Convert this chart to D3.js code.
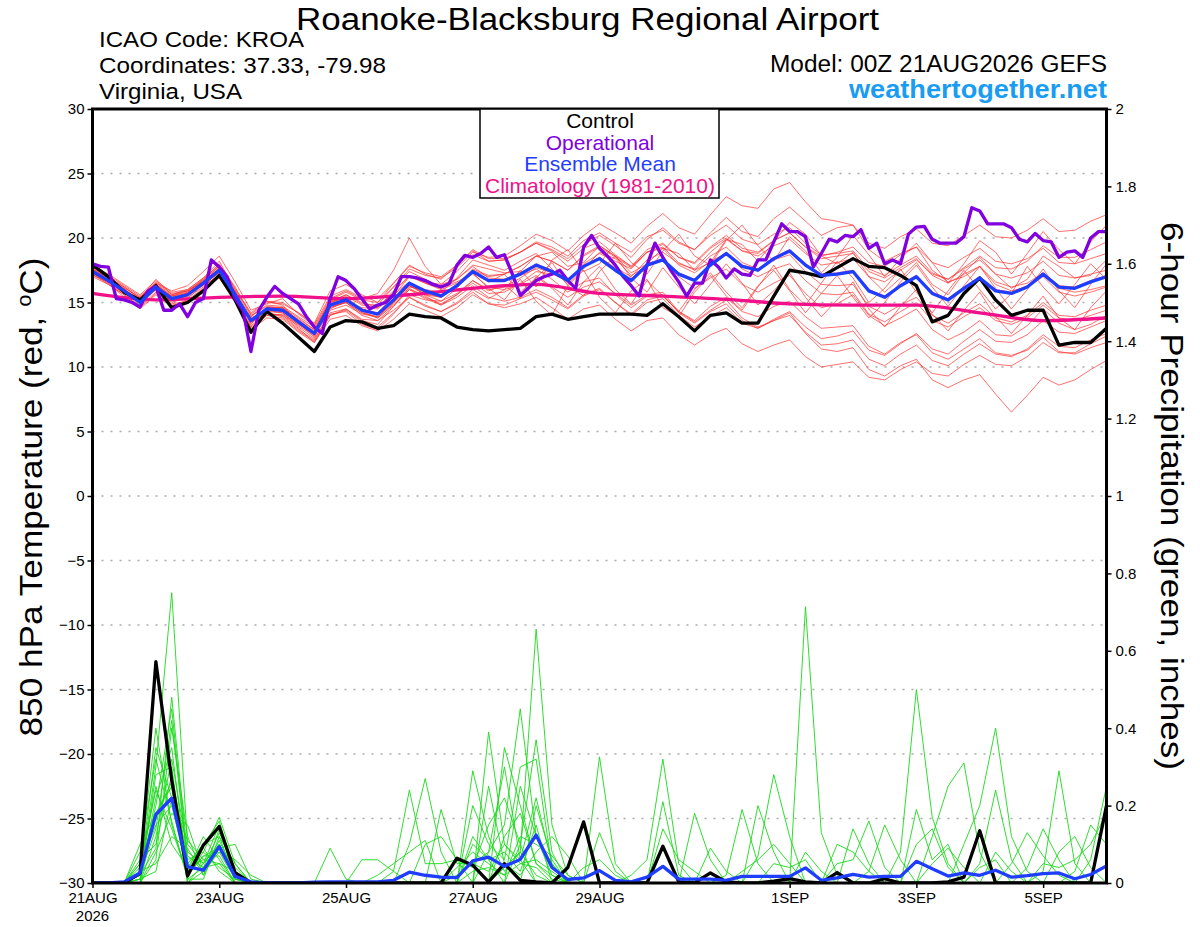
<!DOCTYPE html>
<html>
<head>
<meta charset="utf-8">
<script src="https://cdn.jsdelivr.net/npm/d3@7"></script>
<style>
  body { margin: 0; background: #fff; }
  svg { display: block; font-family: "Liberation Sans", Arial, Helvetica, sans-serif; }
</style>
</head>
<body>
<div id="chart"></div>
<script>

// forecast hours, GEFS 6-hourly out to 384h, operational 3-hourly
var hours6 = d3.range(0, 385, 6)
var hours3 = d3.range(0, 385, 3)

var tickHours = [0, 48, 96, 144, 192, 264, 312, 360]
var tickLabels = ["21AUG", "23AUG", "25AUG", "27AUG", "29AUG", "1SEP", "3SEP", "5SEP"]
var tempTicks = [-30, -25, -20, -15, -10, -5, 0, 5, 10, 15, 20, 25, 30]
var precipTicks = [0, 0.2, 0.4, 0.6, 0.8, 1, 1.2, 1.4, 1.6, 1.8, 2]
var gridTicks = [-25, -20, -15, -10, -5, 0, 5, 10, 15, 20, 25]

// 850 hPa temperature (C)
var controlTemp = [
  17.9, 17.0, 15.8, 15.2, 16.3, 14.6, 15.0, 15.9, 17.1, 15.2, 12.7, 14.3, 13.4,
  12.3, 11.2, 13.1, 13.6, 13.5, 13.0, 13.2, 14.1, 13.9, 13.8, 13.1, 12.9, 12.8,
  12.9, 13.0, 13.9, 14.1, 13.7, 13.9, 14.1, 14.1, 14.1, 14.0, 14.9, 13.9, 12.8,
  14.0, 14.2, 13.4, 13.4, 15.5, 17.5, 17.3, 17.0, 17.7, 18.4, 17.8, 17.7, 17.1,
  16.3, 13.5, 14.0, 15.7, 16.9, 15.2, 14.0, 14.4, 14.4, 11.7, 11.9, 11.9, 13.0
]

var meanTemp = [
  17.4, 16.7, 15.9, 15.0, 16.2, 15.3, 15.6, 16.5, 17.5, 15.6, 13.6, 14.5, 14.4,
  13.5, 12.6, 14.8, 15.2, 14.4, 14.1, 15.2, 16.5, 15.9, 15.5, 16.3, 17.4, 16.7,
  16.7, 17.2, 17.9, 17.4, 16.7, 17.8, 18.4, 17.5, 16.7, 17.9, 18.3, 17.2, 16.7,
  17.9, 18.8, 17.8, 17.5, 18.4, 19.0, 17.9, 17.1, 17.2, 17.4, 15.9, 15.4, 16.3,
  17.0, 15.7, 15.2, 16.1, 16.9, 15.9, 15.7, 16.2, 17.2, 16.2, 16.1, 16.6, 17.0
]

var operationalTemp = [
  18.0, 17.8, 17.75, 15.3, 15.2, 15.0, 14.65, 15.9, 16.25, 14.4, 14.4, 14.9, 13.9, 15.0, 15.3, 18.3,
  17.75, 17.0, 15.3, 14.4, 11.2, 14.4, 15.4, 16.25, 15.7, 15.3, 14.9, 13.9, 13.1, 12.6, 15.3, 17.0,
  16.7, 16.1, 15.3, 14.5, 14.8, 15.0, 15.6, 17.0, 17.0, 16.9, 16.7, 16.4, 16.2, 16.45, 17.9, 18.65,
  18.5, 18.8, 19.3, 18.5, 18.7, 17.2, 15.55, 16.1, 16.7, 17.0, 17.2, 17.5, 16.7, 16.1, 19.3, 20.2,
  19.2, 18.6, 17.9, 17.0, 16.3, 15.5, 17.9, 19.6, 18.5, 17.5, 16.6, 15.5, 16.5, 16.5, 18.3, 17.75,
  16.9, 17.6, 17.2, 17.1, 18.3, 18.3, 19.7, 21.1, 20.5, 20.5, 20.1, 17.75, 18.8, 19.9, 19.7, 20.2,
  20.1, 20.65, 19.2, 19.6, 18.0, 18.3, 18.0, 20.3, 20.85, 20.9, 19.9, 19.6, 19.6, 19.6, 20.1, 22.35,
  22.1, 21.1, 21.1, 21.1, 20.8, 19.9, 19.7, 20.35, 19.8, 19.7, 18.5, 18.9, 19.0, 18.5, 20.0, 20.5,
  20.5
]

// climatology, one value per day (00Z)
var climHours = [0, 24, 48, 72, 96, 120, 144, 168, 192, 216, 240, 264, 288, 312, 336, 360, 384]
var climTemp = [15.7, 15.2, 15.4, 15.5, 15.3, 15.6, 16.1, 16.4, 15.7, 15.5, 15.25, 14.9, 14.8, 14.8, 14.2, 13.6, 13.8]

var memberTemps = [
  [17.6, 16.9, 16.2, 15.3, 16.8, 15.6, 16.0, 16.9, 18.2, 16.0, 14.1, 15.0, 14.9,
   14.2, 13.4, 15.9, 16.4, 15.6, 15.0, 16.5, 17.9, 17.2, 16.8, 17.9, 19.0, 18.2,
   18.3, 18.9, 19.6, 19.1, 18.4, 19.5, 20.2, 19.4, 18.5, 19.9, 20.8, 19.7, 19.1,
   20.4, 21.6, 20.5, 20.1, 21.5, 22.4, 21.3, 20.2, 20.8, 21.0, 19.6, 19.2, 20.1,
   20.7, 19.6, 19.4, 20.2, 21.0, 20.1, 20.0, 20.6, 21.5, 20.5, 20.6, 21.3, 21.8],
  [17.2, 16.4, 15.6, 14.7, 15.8, 14.9, 15.1, 16.0, 16.9, 15.0, 12.9, 13.8, 13.7,
   12.7, 11.9, 13.7, 14.0, 13.2, 12.8, 13.7, 14.9, 14.4, 13.9, 14.6, 15.6, 14.9,
   14.8, 15.3, 15.8, 15.2, 14.5, 15.5, 16.0, 15.0, 14.1, 15.2, 15.5, 14.3, 13.6,
   14.7, 15.4, 14.3, 13.9, 14.7, 15.1, 13.9, 13.0, 13.1, 13.2, 11.6, 11.0, 11.9,
   12.5, 11.1, 10.6, 11.4, 12.2, 11.1, 10.9, 11.3, 12.3, 11.2, 11.0, 11.5, 11.9],
  [17.9, 17.1, 16.3, 15.5, 16.5, 15.9, 16.3, 17.4, 18.6, 16.6, 14.4, 14.9, 15.3,
   14.1, 13.2, 15.3, 15.9, 15.3, 15.7, 17.5, 20.0, 17.8, 16.4, 16.8, 17.9, 17.6,
   17.3, 17.4, 18.6, 18.9, 17.8, 18.1, 19.4, 18.6, 17.3, 18.0, 19.2, 18.8, 17.5,
   18.1, 19.9, 19.5, 18.2, 19.7, 21.2, 20.3, 18.6, 18.0, 18.9, 17.0, 15.8, 16.9,
   18.1, 16.4, 15.6, 17.3, 18.5, 17.2, 16.1, 16.8, 18.6, 17.8, 16.9, 17.1, 18.3],
  [17.3, 16.5, 15.4, 14.5, 15.6, 14.7, 15.2, 16.1, 17.6, 15.9, 13.5, 14.2, 13.9,
   12.9, 12.1, 14.2, 14.5, 13.6, 13.3, 14.7, 16.2, 16.0, 15.8, 16.9, 18.3, 17.9,
   17.5, 18.2, 18.8, 17.6, 16.4, 17.6, 18.9, 18.4, 17.1, 17.8, 18.3, 17.0, 16.1,
   16.9, 17.6, 16.4, 15.8, 16.5, 17.1, 15.7, 14.6, 14.9, 15.6, 14.0, 13.2, 13.8,
   14.5, 12.9, 12.1, 12.7, 13.6, 12.5, 12.4, 13.2, 14.5, 13.4, 12.9, 13.3, 14.0],
  [17.5, 16.6, 15.8, 15.1, 16.4, 15.5, 15.9, 16.7, 17.8, 15.8, 13.3, 14.6, 14.6,
   13.8, 12.9, 15.0, 15.6, 15.0, 14.6, 15.9, 17.0, 16.5, 16.0, 16.5, 17.2, 16.2,
   16.0, 16.4, 17.1, 16.2, 15.4, 16.2, 16.6, 15.7, 14.8, 15.6, 15.8, 14.3, 13.5,
   14.4, 15.2, 13.8, 13.1, 13.6, 14.2, 12.6, 11.4, 11.2, 11.5, 9.8, 9.3, 10.1,
   10.6, 9.0, 8.4, 9.0, 9.4, 7.9, 6.5, 7.8, 9.2, 8.6, 9.0, 9.8, 10.5],
  [17.7, 17.0, 16.0, 15.2, 16.0, 15.2, 15.8, 16.8, 18.0, 16.2, 14.0, 14.7, 14.6,
   13.6, 12.8, 15.1, 15.6, 14.9, 14.8, 16.2, 17.6, 17.1, 16.9, 17.7, 18.9, 18.5,
   18.6, 19.4, 20.3, 19.8, 19.0, 20.2, 21.1, 20.4, 19.6, 20.9, 21.9, 20.8, 20.3,
   21.8, 23.2, 22.5, 22.3, 23.8, 24.3, 22.8, 21.5, 21.3, 21.0, 19.1, 18.2, 18.8,
   19.3, 17.5, 16.6, 17.0, 17.8, 16.4, 15.9, 16.2, 17.0, 15.8, 15.5, 15.8, 16.2],
  [17.1, 16.6, 15.7, 15.2, 16.3, 15.0, 15.4, 16.2, 17.2, 15.3, 13.0, 14.0, 14.1,
   13.3, 12.5, 14.6, 15.0, 14.0, 13.6, 14.4, 15.4, 14.7, 14.3, 15.0, 16.0, 15.3,
   16.0, 17.5, 16.2, 18.3, 19.1, 17.4, 18.0, 19.6, 18.1, 17.2, 19.0, 20.3, 18.6,
   17.9, 19.8, 21.0, 19.4, 18.2, 20.1, 19.0, 17.3, 18.5, 20.2, 18.7, 17.0, 18.4,
   19.6, 18.1, 16.5, 18.0, 19.8, 18.9, 17.2, 18.8, 20.5, 19.1, 18.0, 19.7, 21.0],
  [17.8, 16.9, 16.1, 14.9, 16.1, 15.5, 15.7, 16.3, 17.1, 15.2, 13.9, 15.1, 14.8,
   13.4, 12.3, 14.5, 15.1, 14.6, 14.5, 15.6, 16.6, 15.5, 14.8, 15.4, 16.3, 15.4,
   15.1, 15.4, 16.0, 15.4, 14.6, 15.6, 16.1, 15.0, 14.0, 15.0, 15.3, 14.0, 13.1,
   13.9, 14.6, 13.4, 13.0, 13.7, 14.3, 13.1, 12.2, 12.4, 12.8, 11.3, 10.9, 11.8,
   12.6, 11.4, 11.0, 12.0, 12.9, 12.0, 11.9, 12.5, 13.6, 12.7, 12.6, 13.1, 13.6],
  [17.4, 16.8, 16.1, 15.4, 16.6, 15.7, 15.9, 16.6, 17.5, 15.5, 13.8, 14.4, 14.2,
   13.1, 12.2, 14.1, 14.3, 13.3, 12.9, 14.1, 15.6, 15.2, 15.1, 16.1, 17.5, 17.0,
   17.2, 17.8, 18.6, 18.2, 17.5, 18.6, 19.3, 18.5, 17.7, 18.9, 19.3, 18.1, 17.5,
   18.6, 19.3, 18.1, 17.6, 18.3, 18.7, 17.4, 16.4, 16.3, 16.4, 14.7, 14.1, 14.8,
   15.4, 14.0, 13.4, 14.2, 14.9, 13.8, 13.5, 14.0, 15.0, 14.0, 13.9, 14.4, 14.8],
  [17.3, 16.7, 15.9, 15.0, 16.0, 15.1, 15.3, 16.4, 17.4, 15.7, 13.7, 14.3, 14.5,
   13.7, 12.9, 15.2, 15.8, 15.2, 15.0, 16.2, 17.4, 16.8, 16.2, 16.6, 17.3, 16.1,
   15.2, 16.8, 15.1, 14.0, 16.3, 17.5, 15.4, 14.2, 15.9, 16.8, 14.6, 13.9, 15.8,
   17.1, 15.5, 14.4, 16.2, 17.9, 16.0, 14.8, 16.5, 18.2, 16.9, 15.0, 16.1, 17.6,
   15.8, 14.2, 15.9, 17.5, 16.0, 14.5, 15.7, 17.8, 16.2, 14.9, 16.4, 18.0, 16.8],
  [17.6, 16.8, 15.9, 15.1, 16.3, 15.4, 15.6, 16.4, 17.3, 15.4, 13.4, 14.2, 14.0,
   13.0, 11.9, 14.0, 14.4, 13.5, 13.1, 14.2, 15.4, 14.8, 14.3, 14.9, 15.8, 14.9,
   14.6, 14.9, 15.4, 14.6, 13.7, 14.5, 14.8, 13.7, 12.8, 13.6, 13.8, 12.5, 11.7,
   12.5, 13.0, 11.8, 11.2, 11.7, 12.1, 10.8, 10.0, 10.2, 10.4, 9.2, 9.0, 9.8,
   10.4, 9.5, 9.3, 10.2, 10.9, 10.2, 10.1, 10.8, 11.9, 11.1, 11.1, 11.8, 12.4],
  [17.5, 16.6, 16.0, 15.3, 16.4, 15.4, 15.7, 16.6, 17.7, 15.9, 13.9, 14.8, 14.7,
   13.9, 13.1, 15.1, 15.3, 14.3, 13.8, 14.8, 16.0, 15.3, 14.8, 15.6, 16.7, 16.0,
   16.2, 16.9, 17.7, 17.3, 16.6, 17.8, 18.5, 17.7, 17.0, 18.3, 18.9, 18.0, 17.6,
   18.9, 19.9, 19.0, 18.8, 19.8, 20.4, 19.3, 18.6, 18.9, 19.3, 18.1, 17.8, 18.7,
   19.3, 18.1, 17.7, 18.5, 19.2, 18.2, 18.0, 18.4, 19.2, 18.1, 18.0, 18.4, 18.8],
  [17.2, 16.5, 15.7, 14.8, 16.0, 15.2, 15.5, 16.5, 17.4, 15.3, 13.2, 14.1, 14.0,
   13.2, 12.4, 14.4, 14.8, 14.1, 13.9, 15.0, 16.3, 15.7, 15.4, 16.2, 17.3, 16.6,
   17.2, 15.8, 16.9, 18.1, 16.3, 15.5, 17.4, 18.6, 16.9, 15.8, 17.7, 16.2, 14.9,
   16.4, 18.0, 16.5, 14.8, 15.9, 17.3, 15.4, 13.9, 15.2, 16.6, 14.5, 13.1, 14.7,
   16.0, 14.1, 12.8, 14.4, 15.8, 13.9, 12.6, 14.0, 15.5, 13.8, 12.9, 14.6, 15.9],
  [17.9, 17.2, 16.4, 15.6, 16.7, 15.8, 16.0, 16.9, 17.9, 16.1, 14.2, 15.1, 15.0,
   14.2, 13.3, 15.5, 16.0, 15.4, 15.3, 16.5, 17.8, 17.3, 17.0, 17.9, 19.1, 18.4,
   18.4, 18.9, 19.6, 19.0, 18.2, 19.2, 19.7, 18.7, 17.8, 18.9, 19.2, 17.9, 17.3,
   18.2, 18.8, 17.6, 17.0, 17.6, 18.0, 16.7, 15.7, 15.6, 15.8, 14.1, 13.5, 14.3,
   15.0, 13.6, 13.1, 13.9, 14.6, 13.6, 13.3, 13.8, 14.8, 13.8, 13.6, 14.0, 14.4],
  [17.0, 16.4, 15.6, 14.6, 15.7, 14.8, 15.0, 16.0, 17.0, 15.2, 13.1, 14.0, 13.8,
   12.8, 12.0, 14.0, 14.5, 13.7, 13.6, 14.7, 16.0, 15.6, 15.4, 16.4, 17.6, 17.1,
   17.2, 17.8, 18.6, 18.2, 17.5, 18.7, 19.4, 18.6, 17.8, 19.1, 19.6, 18.5, 18.0,
   19.2, 20.0, 19.0, 18.6, 19.4, 19.9, 18.8, 17.9, 18.1, 18.4, 17.0, 16.6, 17.5,
   18.3, 17.2, 16.8, 17.7, 18.6, 17.7, 17.6, 18.2, 19.4, 18.5, 18.5, 19.1, 19.7],
  [17.6, 16.9, 16.0, 15.0, 16.2, 15.3, 15.7, 16.6, 17.6, 15.8, 13.6, 14.6, 14.5,
   13.5, 12.6, 14.9, 15.5, 14.8, 14.6, 15.8, 17.1, 16.5, 16.1, 16.8, 17.8, 16.9,
   16.8, 17.1, 17.6, 16.8, 15.8, 16.6, 16.9, 15.6, 14.6, 15.5, 15.6, 14.2, 13.4,
   14.3, 14.9, 13.6, 13.0, 13.6, 14.0, 12.7, 11.7, 11.8, 12.1, 10.6, 10.1, 11.0,
   11.7, 10.5, 10.1, 11.0, 11.8, 11.0, 10.8, 11.4, 12.5, 11.6, 11.5, 12.1, 12.6],
  [17.4, 16.7, 15.8, 15.2, 16.5, 15.6, 15.9, 16.8, 17.8, 15.7, 13.5, 14.3, 14.2,
   13.3, 12.7, 15.0, 15.4, 14.5, 14.1, 15.1, 16.3, 15.6, 15.1, 15.7, 16.7, 15.9,
   16.4, 15.3, 17.0, 16.1, 14.8, 16.6, 17.8, 16.0, 14.9, 16.7, 15.5, 14.3, 16.0,
   17.3, 15.8, 14.6, 16.3, 17.5, 15.9, 14.2, 15.7, 17.1, 15.4, 13.8, 15.0, 16.6,
   17.9, 16.2, 14.7, 16.3, 17.8, 16.1, 14.5, 16.0, 17.6, 15.9, 14.6, 16.4, 18.0],
  [17.5, 16.8, 16.0, 15.1, 16.3, 15.3, 15.6, 16.5, 17.5, 15.6, 13.6, 14.5, 14.4,
   13.6, 12.7, 14.8, 15.2, 14.5, 14.2, 15.5, 17.0, 16.6, 16.4, 17.4, 18.7, 18.2,
   18.3, 18.9, 19.7, 19.3, 18.6, 19.8, 20.4, 19.6, 18.9, 20.1, 20.6, 19.6, 19.1,
   20.2, 21.0, 19.9, 19.5, 20.3, 20.8, 19.6, 18.7, 18.8, 19.0, 17.6, 17.1, 17.9,
   18.6, 17.3, 16.8, 17.6, 18.3, 17.2, 16.9, 17.3, 18.2, 17.1, 16.9, 17.2, 17.5],
  [17.8, 17.0, 16.2, 15.4, 16.4, 15.5, 15.8, 16.7, 17.6, 15.5, 13.5, 14.6, 14.6,
   13.6, 12.6, 14.7, 15.0, 14.2, 13.8, 14.9, 16.1, 15.4, 14.9, 15.6, 16.5, 15.7,
   15.8, 16.5, 17.4, 17.2, 16.7, 18.0, 18.8, 18.2, 17.6, 18.9, 19.5, 18.5, 18.1,
   19.3, 20.2, 19.2, 18.9, 19.8, 20.4, 19.3, 18.4, 18.6, 18.8, 17.4, 16.9, 17.7,
   18.4, 17.1, 16.5, 17.2, 17.8, 16.6, 16.2, 16.5, 17.3, 16.1, 15.8, 16.0, 16.3],
  [17.3, 16.6, 15.9, 15.0, 16.1, 15.2, 15.5, 16.4, 17.3, 15.5, 13.6, 14.4, 14.3,
   13.4, 12.5, 14.6, 15.0, 14.2, 13.9, 15.0, 16.3, 15.8, 15.5, 16.3, 17.4, 16.7,
   16.8, 17.3, 18.0, 17.5, 16.8, 17.9, 18.5, 17.6, 16.8, 18.0, 18.4, 17.3, 16.8,
   18.0, 18.9, 17.9, 17.6, 18.5, 19.1, 18.0, 17.2, 17.3, 17.5, 16.0, 15.5, 16.4,
   17.1, 15.8, 15.3, 16.2, 17.0, 16.0, 15.8, 16.3, 17.3, 16.3, 16.2, 16.7, 17.1]
]

// 6-hour precipitation (inches)
var controlPrecip = [
  0, 0, 0, 0.025, 0.572, 0.266, 0.018, 0.098, 0.146, 0.027, 0, 0, 0,
  0, 0, 0, 0, 0, 0, 0, 0, 0, 0, 0.064, 0.046, 0.003,
  0.05, 0.007, 0.003, 0, 0.04, 0.158, 0, 0, 0, 0, 0.095, 0.003, 0,
  0.026, 0.003, 0, 0, 0.005, 0.011, 0.003, 0, 0.027, 0, 0, 0.011, 0,
  0, 0, 0.003, 0.015, 0.135, 0, 0, 0, 0, 0, 0, 0, 0.2
]

var meanPrecip = [
  0, 0, 0.003, 0.026, 0.177, 0.219, 0.042, 0.033, 0.094, 0.017, 0.003, 0, 0,
  0, 0.002, 0.003, 0.003, 0.003, 0.003, 0.007, 0.028, 0.02, 0.015, 0.014, 0.057, 0.067,
  0.043, 0.061, 0.124, 0.04, 0.009, 0.013, 0.032, 0.007, 0.003, 0.015, 0.043, 0.01, 0.01,
  0.01, 0.007, 0.017, 0.017, 0.017, 0.017, 0.039, 0.007, 0.013, 0.022, 0.015, 0.017, 0.017,
  0.056, 0.037, 0.018, 0.026, 0.02, 0.033, 0.015, 0.019, 0.024, 0.026, 0.011, 0.022, 0.044
]

// members: [step, inches] for each wet 6-hour step, all other steps dry
var memberPrecipWet = [
  [[3,.02],[4,.30],[5,.75],[6,.10],[7,.05],[8,.10],[9,.02],[22,.19],[23,.05],[24,.05],[25,.08],[26,.15],[27,.45],[28,.12],[29,.02],[45,.714],[46,.13],[47,.02]],
  [[3,.05],[4,.40],[5,.15],[6,.02],[7,.08],[8,.17],[9,.05],[25,.39],[26,.10],[27,.05],[28,.04],[32,.326],[33,.05],[53,.12],[54,.25],[55,.31],[56,.08]],
  [[3,.01],[4,.20],[5,.45],[6,.05],[7,.10],[8,.12],[9,.01],[15,.09],[16,.01],[26,.35],[27,.20],[28,.05],[29,.01],[40,.02],[41,.19],[42,.05],[57,.08],[58,.03]],
  [[3,.10],[4,.18],[5,.25],[7,.03],[8,.08],[9,.06],[10,.02],[24,.29],[25,.12],[26,.03],[27,.08],[28,.656],[29,.15],[30,.02],[45,.08],[46,.03],[48,.14],[49,.05]],
  [[4,.12],[5,.32],[6,.08],[7,.05],[8,.15],[17,.06],[18,.06],[19,.03],[27,.10],[28,.37],[29,.08],[47,.05],[48,.06],[49,.16],[50,.04]],
  [[3,.03],[4,.25],[5,.10],[6,.04],[7,.06],[8,.05],[9,.03],[24,.20],[25,.10],[26,.06],[27,.30],[28,.32],[29,.04],[42,.20],[43,.08],[53,.05],[54,.09],[55,.04]],
  [[4,.06],[5,.40],[6,.12],[7,.02],[8,.09],[9,.10],[10,.01],[23,.04],[24,.08],[25,.05],[26,.02],[27,.12],[28,.10],[29,.07],[30,.02],[32,.13],[33,.03],[55,.10],[56,.20],[57,.40],[58,.12],[59,.03]],
  [[3,.04],[4,.15],[5,.20],[6,.03],[7,.12],[8,.06],[19,.03],[20,.24],[21,.05],[22,.05],[23,.06],[24,.04],[25,.15],[26,.22],[27,.10],[49,.03],[50,.15],[51,.06]],
  [[3,.02],[4,.35],[5,.22],[6,.01],[7,.04],[8,.13],[9,.04],[18,.02],[19,.05],[20,.08],[21,.11],[24,.12],[25,.06],[26,.08],[27,.03],[28,.15],[31,.04],[32,.06],[33,.02],[56,.05],[57,.24],[58,.06]],
  [[3,.06],[4,.10],[5,.28],[6,.06],[7,.08],[8,.04],[9,.01],[25,.25],[26,.05],[27,.02],[28,.08],[29,.12],[30,.07],[42,.07],[43,.28],[44,.12],[60,.05],[61,.04],[62,.06],[63,.10],[64,.18]],
  [[4,.08],[5,.18],[6,.15],[7,.03],[8,.11],[9,.02],[23,.02],[24,.05],[25,.03],[26,.10],[27,.06],[28,.22],[29,.05],[34,.02],[35,.06],[36,.32],[37,.05],[52,.10],[53,.14],[54,.04]],
  [[3,.01],[4,.22],[5,.35],[6,.02],[7,.07],[8,.07],[20,.10],[21,.27],[22,.08],[43,.05],[44,.04],[45,.06],[58,.05],[59,.13],[60,.07],[61,.02]],
  [[3,.03],[4,.05],[5,.12],[6,.09],[7,.02],[8,.14],[9,.03],[26,.12],[27,.18],[28,.05],[29,.02],[36,.21],[37,.02],[59,.04],[60,.14],[61,.06]],
  [[4,.28],[5,.30],[7,.05],[8,.10],[9,.02],[24,.03],[25,.04],[26,.02],[27,.05],[28,.06],[29,.03],[51,.08],[52,.50],[53,.17],[54,.05]],
  [[3,.02],[4,.14],[5,.42],[6,.05],[7,.09],[8,.03],[21,.10],[22,.12],[23,.06],[36,.14],[37,.06],[38,.03],[60,.03],[61,.29],[62,.05]],
  [[3,.08],[4,.32],[5,.16],[6,.01],[7,.01],[8,.12],[9,.05],[27,.25],[28,.12],[29,.05],[41,.03],[42,.06],[43,.10],[44,.05],[61,.08],[62,.12],[63,.04]],
  [[3,.01],[4,.03],[5,.22],[6,.11],[7,.06],[8,.08],[9,.01],[38,.18],[39,.06],[62,.03],[63,.15],[64,.10]],
  [[4,.18],[5,.26],[6,.04],[7,.10],[8,.16],[9,.02],[25,.08],[26,.30],[27,.06],[52,.19],[53,.06],[54,.10]],
  [[3,.02],[4,.09],[5,.48],[6,.07],[7,.04],[8,.05],[24,.10],[25,.06],[28,.20],[29,.06],[39,.09],[40,.03],[63,.06],[64,.25]],
  [[3,.05],[4,.24],[5,.14],[6,.02],[7,.07],[8,.09],[9,.03],[26,.04],[27,.08],[28,.02],[47,.10],[48,.08],[49,.03],[56,.04],[57,.06]]
]

var colors = {
  member: "#ff2a2a",
  memberPrecip: "#19d919",
  control: "#000000",
  operational: "#8000e0",
  mean: "#1f3dff",
  clim: "#f0108a",
  site: "#1a9cf2"
}

var width = 1200
var height = 927
var margin = { left: 92.5, right: 1106.5, top: 109, bottom: 883 }

var svg = d3.select("#chart")
  .append("svg")
  .attr("width", width)
  .attr("height", height)
  .attr("viewBox", `0 0 ${width} ${height}`)

var x = d3.scaleLinear().domain([0, 384]).range([margin.left, margin.right])
var yT = d3.scaleLinear().domain([-30, 30]).range([margin.bottom, margin.top])
var yP = d3.scaleLinear().domain([0, 2]).range([margin.bottom, margin.top])

svg.append("clipPath")
  .attr("id", "plotclip")
  .append("rect")
  .attr("x", margin.left)
  .attr("y", margin.top)
  .attr("width", margin.right - margin.left)
  .attr("height", margin.bottom - margin.top)

// dotted grid on the temperature ticks
svg.append("g")
  .selectAll("line")
  .data(gridTicks)
  .join("line")
  .attr("x1", margin.left)
  .attr("x2", margin.right)
  .attr("y1", d => yT(d))
  .attr("y2", d => yT(d))
  .attr("stroke", "#aaaaaa")
  .attr("stroke-width", 1.5)
  .style("stroke-dasharray", "2, 7")

var plot = svg.append("g").attr("clip-path", "url(#plotclip)")

var lineT = d3.line().x((d, i) => x(hours6[i])).y(d => yT(d))
var lineT3 = d3.line().x((d, i) => x(hours3[i])).y(d => yT(d))
var lineClim = d3.line().x((d, i) => x(climHours[i])).y(d => yT(d)).curve(d3.curveMonotoneX)
var lineP = d3.line().x((d, i) => x(hours6[i])).y(d => yP(d))

// members are dry except for the listed steps
var memberPrecip = memberPrecipWet.map(function(wet) {
  var series = hours6.map(() => 0)
  wet.forEach(w => { series[w[0]] = w[1] })
  return series
})

plot.append("g")
  .attr("fill", "none")
  .attr("stroke", colors.memberPrecip)
  .attr("stroke-width", 0.9)
  .selectAll("path")
  .data(memberPrecip)
  .join("path")
  .attr("d", lineP)

plot.append("g")
  .attr("fill", "none")
  .attr("stroke", colors.member)
  .attr("stroke-opacity", 0.85)
  .attr("stroke-width", 0.8)
  .selectAll("path")
  .data(memberTemps)
  .join("path")
  .attr("d", lineT)

var mains = [
  { data: climTemp, line: lineClim, color: colors.clim },
  { data: controlTemp, line: lineT, color: colors.control },
  { data: operationalTemp, line: lineT3, color: colors.operational },
  { data: meanTemp, line: lineT, color: colors.mean },
  { data: controlPrecip, line: lineP, color: colors.control },
  { data: meanPrecip, line: lineP, color: colors.mean }
]

plot.append("g")
  .attr("fill", "none")
  .attr("stroke-width", 3.3)
  .attr("stroke-linejoin", "round")
  .selectAll("path")
  .data(mains)
  .join("path")
  .attr("stroke", d => d.color)
  .attr("d", d => d.line(d.data))

// axes
var leftAxis = svg.append("g")
  .attr("transform", `translate(${margin.left},0)`)
  .call(d3.axisLeft(yT).tickValues(tempTicks).tickSize(5).tickPadding(3).tickFormat(d3.format("d")))

var rightAxis = svg.append("g")
  .attr("transform", `translate(${margin.right},0)`)
  .call(d3.axisRight(yP).tickValues(precipTicks).tickSize(5).tickPadding(4).tickFormat(d3.format("~g")))

var bottomAxis = svg.append("g")
  .attr("transform", `translate(0,${margin.bottom})`)
  .call(d3.axisBottom(x).tickValues(tickHours).tickSize(5).tickPadding(4).tickFormat((d, i) => tickLabels[i]))

;[leftAxis, rightAxis].forEach(function(g) {
  g.select(".domain").remove()
  g.selectAll("text").attr("font-size", 15).attr("font-family", null).attr("fill", "#000")
  g.selectAll(".tick line").attr("stroke", "#000").attr("stroke-width", 1.5)
})

bottomAxis.select(".domain").remove()
bottomAxis.selectAll("text").attr("font-size", 15).attr("font-family", null).attr("fill", "#000")
bottomAxis.selectAll(".tick line").attr("stroke", "#000").attr("stroke-width", 1.5)

svg.append("text")
  .attr("x", x(0))
  .attr("y", 921)
  .attr("text-anchor", "middle")
  .attr("font-size", 15)
  .text("2026")

// frame
svg.append("rect")
  .attr("x", margin.left)
  .attr("y", margin.top)
  .attr("width", margin.right - margin.left)
  .attr("height", margin.bottom - margin.top)
  .attr("fill", "none")
  .attr("stroke", "#000")
  .attr("stroke-width", 3)

// legend
var legendItems = [
  { label: "Control", color: colors.control },
  { label: "Operational", color: colors.operational },
  { label: "Ensemble Mean", color: colors.mean },
  { label: "Climatology (1981-2010)", color: colors.clim }
]

svg.append("rect")
  .attr("x", 480)
  .attr("y", margin.top)
  .attr("width", 239)
  .attr("height", 89)
  .attr("fill", "#fff")
  .attr("stroke", "#000")
  .attr("stroke-width", 1.5)

svg.append("g")
  .attr("font-size", 21)
  .attr("text-anchor", "middle")
  .selectAll("text")
  .data(legendItems)
  .join("text")
  .attr("x", 600)
  .attr("y", (d, i) => 128 + i * 21.5)
  .attr("fill", d => d.color)
  .text(d => d.label)

// header
svg.append("text")
  .attr("x", 587.5)
  .attr("y", 30)
  .attr("text-anchor", "middle")
  .attr("font-size", 31)
  .attr("textLength", 583)
  .attr("lengthAdjust", "spacingAndGlyphs")
  .text("Roanoke-Blacksburg Regional Airport")

var leftHeader = [
  { text: "ICAO Code: KROA", y: 47, len: 205 },
  { text: "Coordinates: 37.33, -79.98", y: 73, len: 287 },
  { text: "Virginia, USA", y: 99, len: 143 }
]

svg.append("g")
  .attr("font-size", 22)
  .selectAll("text")
  .data(leftHeader)
  .join("text")
  .attr("x", 99)
  .attr("y", d => d.y)
  .attr("textLength", d => d.len)
  .attr("lengthAdjust", "spacingAndGlyphs")
  .text(d => d.text)

svg.append("text")
  .attr("x", 1107)
  .attr("y", 72)
  .attr("text-anchor", "end")
  .attr("font-size", 23)
  .attr("textLength", 337)
  .attr("lengthAdjust", "spacingAndGlyphs")
  .text("Model: 00Z 21AUG2026 GEFS")

svg.append("text")
  .attr("x", 1107)
  .attr("y", 98)
  .attr("text-anchor", "end")
  .attr("font-size", 25)
  .attr("font-weight", "bold")
  .attr("fill", colors.site)
  .attr("textLength", 258)
  .attr("lengthAdjust", "spacingAndGlyphs")
  .text("weathertogether.net")

// axis titles
var leftTitle = svg.append("text")
  .attr("transform", "translate(42,497) rotate(-90)")
  .attr("text-anchor", "middle")
  .attr("font-size", 32)
  .attr("textLength", 479)
  .attr("lengthAdjust", "spacingAndGlyphs")

leftTitle.append("tspan").text("850 hPa Temperature (red, ")
leftTitle.append("tspan").attr("font-size", 20).attr("dy", -11).text("o")
leftTitle.append("tspan").attr("dy", 11).text("C)")

svg.append("text")
  .attr("transform", "translate(1161,496) rotate(90)")
  .attr("text-anchor", "middle")
  .attr("font-size", 32)
  .attr("textLength", 548)
  .attr("lengthAdjust", "spacingAndGlyphs")
  .text("6-hour Precipitation (green, inches)")

</script>
